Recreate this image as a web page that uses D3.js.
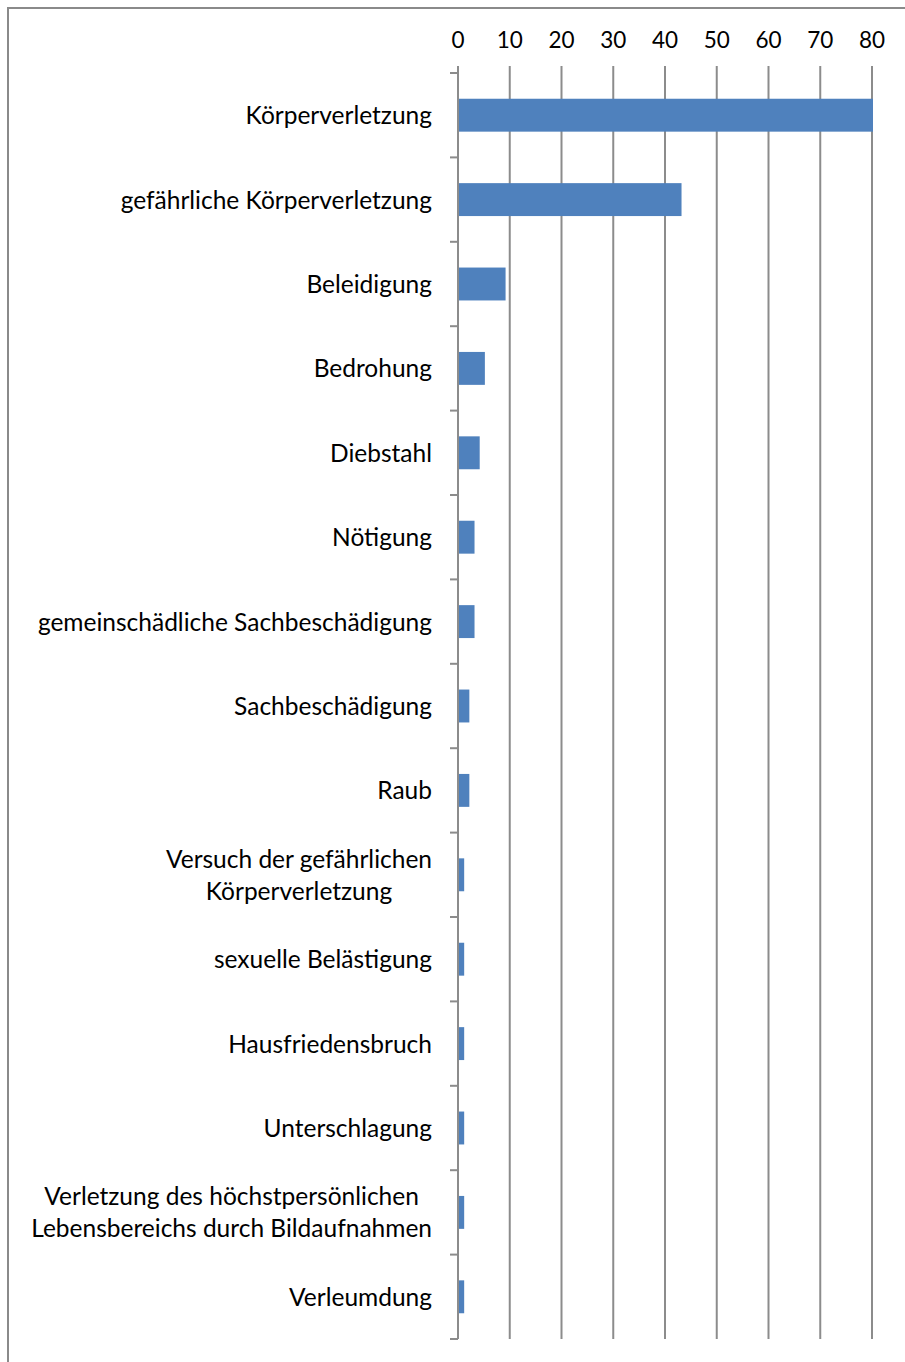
<!DOCTYPE html>
<html>
<head>
<meta charset="utf-8">
<script src="https://cdn.jsdelivr.net/npm/d3@7"></script>
<style>
  body { margin: 0; background: #fff; }
  text { font-family: Lato, "Open Sans", sans-serif; fill: #000; }
</style>
</head>
<body>
<div id="chart"></div>
<script>
// categories, top to bottom (multi-line labels split by "|")
var categories = [
  "Körperverletzung",
  "gefährliche Körperverletzung",
  "Beleidigung",
  "Bedrohung",
  "Diebstahl",
  "Nötigung",
  "gemeinschädliche Sachbeschädigung",
  "Sachbeschädigung",
  "Raub",
  "Versuch der gefährlichen|Körperverletzung",
  "sexuelle Belästigung",
  "Hausfriedensbruch",
  "Unterschlagung",
  "Verletzung des höchstpersönlichen|Lebensbereichs durch Bildaufnahmen",
  "Verleumdung"
];
var values = [80, 43, 9, 5, 4, 3, 3, 2, 2, 1, 1, 1, 1, 1, 1];
var tickValues = [0, 10, 20, 30, 40, 50, 60, 70, 80];

var width = 905;
var height = 1362;
var margin = {top: 73, left: 458, right: 33, bottom: 23};
var barColor = "#4f81bd";
var gridColor = "#8c8c8c";
var labelSize = 24.5;
var tickSize = 22.5;

var svg = d3.select("#chart").append("svg")
  .attr("width", width)
  .attr("height", height);

// outer frame (right and bottom edges fall outside the picture)
svg.append("rect")
  .attr("x", 8).attr("y", 8)
  .attr("width", width + 20).attr("height", height + 20)
  .attr("fill", "none")
  .attr("stroke", "#8a8a8a")
  .attr("stroke-width", 2);

var x = d3.scaleLinear()
  .domain([0, 80])
  .range([margin.left, width - margin.right]);

var y = d3.scaleBand()
  .domain(categories)
  .range([margin.top, height - margin.bottom])
  .paddingInner(0.61)
  .paddingOuter(0.305);

var y0 = margin.top, y1 = height - margin.bottom;

// vertical gridlines plus small ticks above
svg.append("g")
  .selectAll("line")
  .data(tickValues)
  .enter().append("line")
  .attr("x1", function(d) { return x(d); })
  .attr("x2", function(d) { return x(d); })
  .attr("y1", y0 - 7)
  .attr("y2", y1)
  .attr("stroke", gridColor)
  .attr("stroke-width", 2);

// top value axis labels
svg.append("g")
  .selectAll("text")
  .data(tickValues)
  .enter().append("text")
  .attr("x", function(d) { return x(d); })
  .attr("y", 48)
  .attr("text-anchor", "middle")
  .style("font-size", tickSize + "px")
  .text(function(d) { return d; });

// bars
svg.append("g")
  .selectAll("rect")
  .data(values)
  .enter().append("rect")
  .attr("x", x(0))
  .attr("y", function(d, i) { return y(categories[i]); })
  .attr("width", function(d) { return x(d) - x(0) + 1; })
  .attr("height", y.bandwidth())
  .attr("fill", barColor);

// category axis line and separator ticks
var step = y.step();
svg.append("line")
  .attr("x1", x(0)).attr("x2", x(0))
  .attr("y1", y0 - 7).attr("y2", y1)
  .attr("stroke", gridColor)
  .attr("stroke-width", 2);

svg.append("g")
  .selectAll("line")
  .data(d3.range(categories.length + 1))
  .enter().append("line")
  .attr("x1", x(0) - 8).attr("x2", x(0))
  .attr("y1", function(i) { return y0 + i * step; })
  .attr("y2", function(i) { return y0 + i * step; })
  .attr("stroke", gridColor)
  .attr("stroke-width", 2);

// category labels: lines centered on each other, block right-aligned
var labelRight = 432;
var lineH = 32;
categories.forEach(function(c, i) {
  var lines = c.split("|");
  var cy = y(c) + y.bandwidth() / 2;
  var g = svg.append("g");
  var texts = lines.map(function(l, j) {
    return g.append("text")
      .attr("y", cy + (j - (lines.length - 1) / 2) * lineH + 9)
      .style("font-size", labelSize + "px")
      .attr("text-anchor", "middle")
      .text(l);
  });
  var maxW = d3.max(texts, function(t) { return t.node().getComputedTextLength(); });
  texts.forEach(function(t) { t.attr("x", labelRight - maxW / 2); });
});
</script>
</body>
</html>
